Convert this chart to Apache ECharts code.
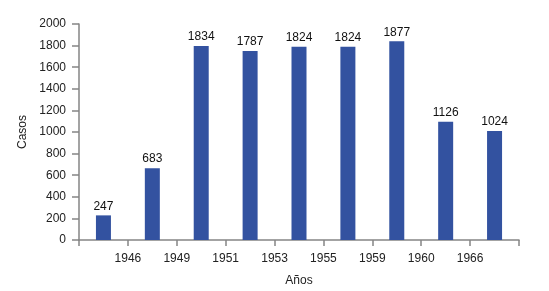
<!DOCTYPE html>
<html>
<head>
<meta charset="utf-8">
<script src="https://cdn.jsdelivr.net/npm/echarts@6/dist/echarts.min.js"></script>
<style>
    html, body { margin: 0; padding: 0; background: #fff; }
    #show_picture { width: 549px; height: 291px; }
</style>
</head>
<body>
<div id="show_picture"></div>
<script>
// nine bars, year labels sit on the boundaries between them
let years = ['1946', '1949', '1951', '1953', '1955', '1959', '1960', '1966'];
let barHeights = [228, 665, 1796, 1750, 1790, 1790, 1840, 1095, 1010];
let barLabels = [247, 683, 1834, 1787, 1824, 1824, 1877, 1126, 1024];
let yTicks = [0, 200, 400, 600, 800, 1000, 1200, 1400, 1600, 1800, 2000];

let myChart = echarts.init(document.getElementById("show_picture"));
let option;

let cats = barHeights.map((_, i) => 'c' + i);
let d = barHeights.map((v, i) => ({ value: v, label: { formatter: String(barLabels[i]) } }));

const font = 'Liberation Sans, Arial, sans-serif';
const axisColor = '#858585';

option = {
    animation: false,
    textStyle: { fontFamily: font },
    grid: { left: 79, right: 30, top: 24, bottom: 51, containLabel: false, outerBoundsMode: 'none' },
    xAxis: [
        {
            type: 'category',
            data: cats,
            boundaryGap: true,
            axisLine: { lineStyle: { color: axisColor, width: 1.5 } },
            axisTick: { show: true, length: 6, interval: 0, lineStyle: { color: axisColor, width: 1.5 } },
            axisLabel: { show: false }
        },
        {
            type: 'value',
            position: 'bottom',
            min: 0,
            max: cats.length,
            interval: 1,
            axisLine: { show: false },
            axisTick: { show: false },
            splitLine: { show: false },
            axisLabel: {
                color: '#222',
                fontSize: 12,
                fontFamily: font,
                margin: 13,
                showMinLabel: false,
                showMaxLabel: false,
                formatter: v => (v >= 1 && v <= years.length) ? years[v - 1] : ''
            },
            name: 'Años',
            nameLocation: 'middle',
            nameGap: 35,
            nameTextStyle: { color: '#222', fontSize: 12, fontFamily: font }
        }
    ],
    yAxis: {
        type: 'value',
        min: yTicks[0],
        max: yTicks[yTicks.length - 1],
        interval: 200,
        axisLine: { show: true, lineStyle: { color: axisColor, width: 1.5 } },
        axisTick: { show: true, length: 7, lineStyle: { color: axisColor, width: 1.5 } },
        splitLine: { show: false },
        axisLabel: { color: '#222', fontSize: 12, fontFamily: font, margin: 13, formatter: v => String(v) },
        name: 'Casos',
        nameLocation: 'middle',
        nameGap: 50,
        nameTextStyle: { color: '#222', fontSize: 12, fontFamily: font }
    },
    series: [
        {
            type: 'bar',
            xAxisIndex: 0,
            data: d,
            barWidth: 15,
            itemStyle: { color: '#3352a0' },
            label: { show: true, position: 'top', distance: 3, color: '#111', fontSize: 12, fontFamily: font }
        }
    ]
};

option && myChart.setOption(option);
</script>
</body>
</html>
